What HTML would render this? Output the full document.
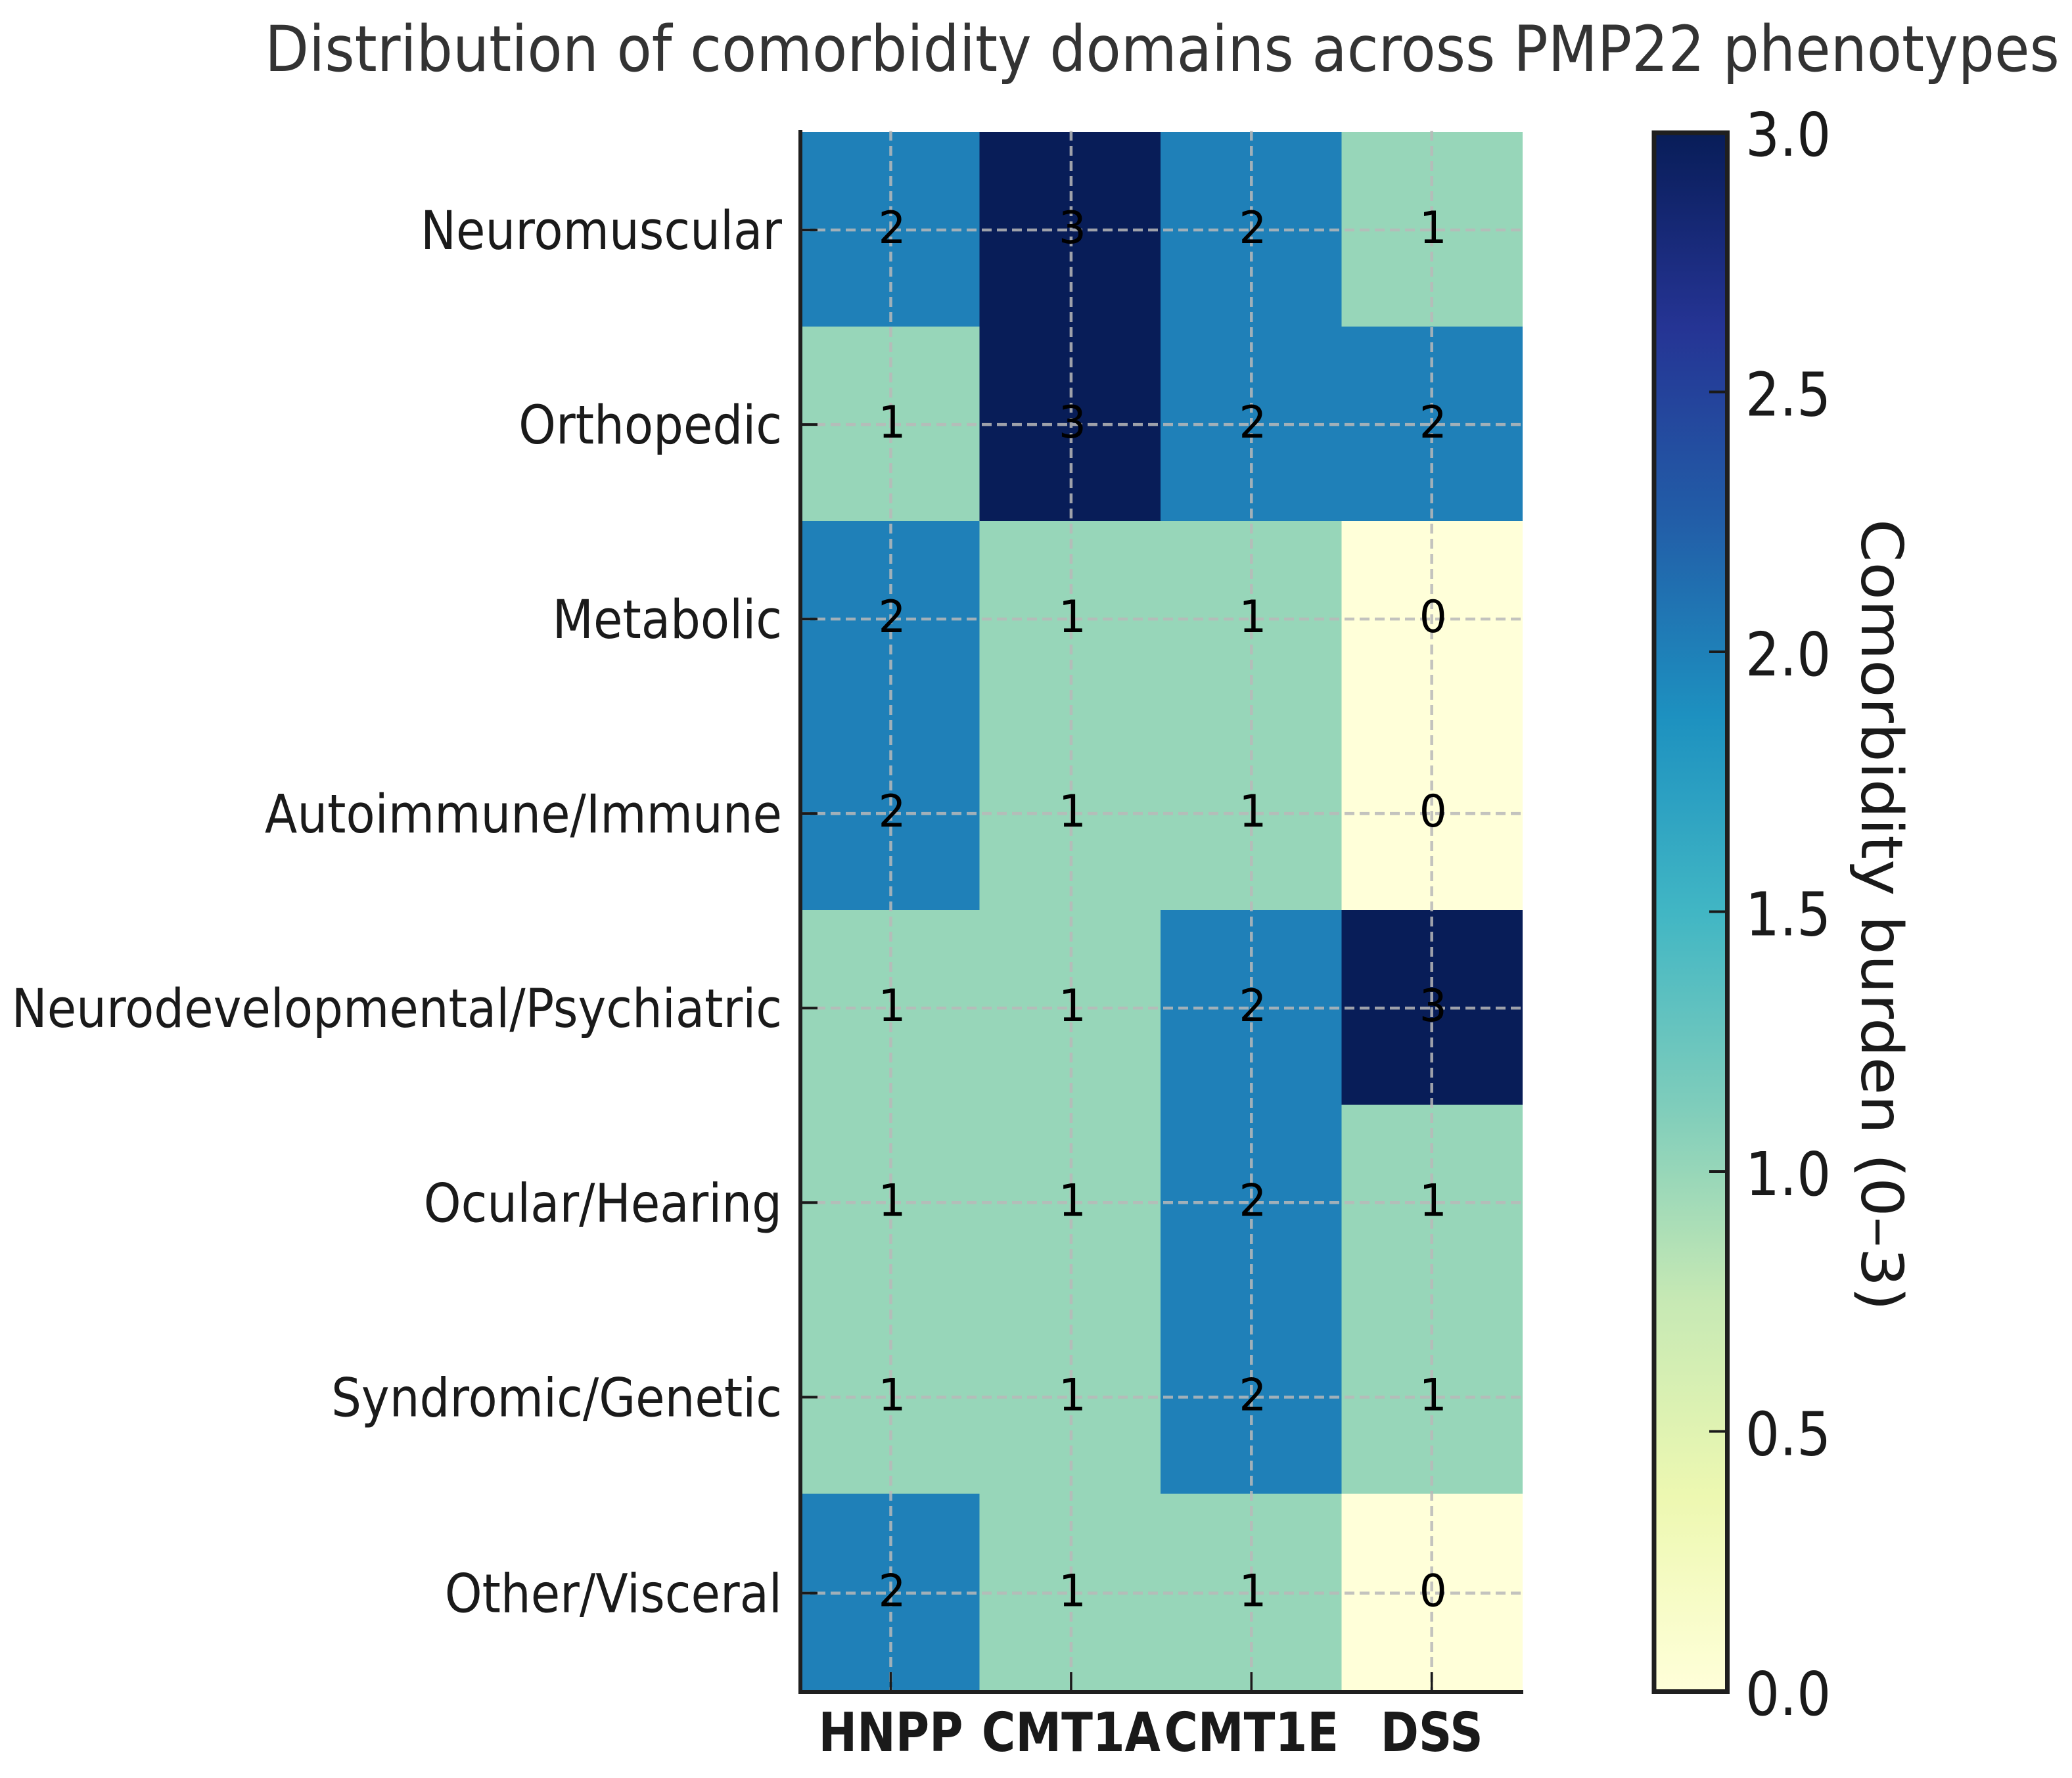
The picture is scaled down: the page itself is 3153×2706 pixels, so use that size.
<!DOCTYPE html>
<html lang="en">
<head>
<meta charset="utf-8">
<title>Distribution of comorbidity domains across PMP22 phenotypes</title>
<style>
html,body{margin:0;padding:0;background:#fff;width:3153px;height:2706px;overflow:hidden}
svg{display:block}
text{font-family:"DejaVu Sans","Liberation Sans",sans-serif}
</style>
</head>
<body>
<svg id="chart" xmlns="http://www.w3.org/2000/svg" width="3153" height="2706" viewBox="0 0 3153 2706">
  <rect x="0" y="0" width="3153" height="2706" fill="#ffffff"/>
  <defs><linearGradient id="cbar-gradient" x1="0" y1="1" x2="0" y2="0"></linearGradient></defs>
  <text transform="translate(403,108) scale(0.907,1)" font-size="96" fill="#333333">Distribution of comorbidity domains across PMP22 phenotypes</text>
  <g id="cells"></g>
  <g id="grid"></g>
  <g id="ticks"></g>
  <g id="values"></g>
  <g id="ylabels"></g>
  <g id="xlabels"></g>
  <line x1="1218" y1="198" x2="1218" y2="2578" stroke="#1f1f1f" stroke-width="6"/>
  <line x1="1215" y1="2575" x2="2318" y2="2575" stroke="#1f1f1f" stroke-width="6"/>
  <g id="colorbar"></g>
  <text transform="translate(2833,790) rotate(90) scale(1.078,1)" font-size="87" fill="#1a1a1a">Comorbidity burden (0–3)</text>
</svg>
<script>
// Chart data
const domains = ['Neuromuscular','Orthopedic','Metabolic','Autoimmune/Immune','Neurodevelopmental/Psychiatric','Ocular/Hearing','Syndromic/Genetic','Other/Visceral'];
const phenotypes = ['HNPP','CMT1A','CMT1E','DSS'];
const hnppValues  = [2,1,2,2,1,1,1,2];
const cmt1aValues = [3,3,1,1,1,1,1,1];
const cmt1eValues = [2,2,1,1,2,2,2,1];
const dssValues   = [1,2,0,0,3,1,1,0];
const colorbarTicks = [0,0.5,1,1.5,2,2.5,3];
const colorbarTickLabels = ['0.0','0.5','1.0','1.5','2.0','2.5','3.0'];
const ylGnBu = ['#ffffd9','#edf8b1','#c7e9b4','#7fcdbb','#41b6c4','#1d91c0','#225ea8','#253494','#081d58'];

const seriesByPhenotype = [hnppValues, cmt1aValues, cmt1eValues, dssValues];
const SVGNS = 'http://www.w3.org/2000/svg';
const plot = {left:1215, right:2317, top:201, bottom:2574, rowStep:296.05};
const cbar = {left:2517, right:2628.5, top:202, bottom:2574.5};
const vMin = 0, vMax = 3;

function xBand(i){ return plot.left + i * (plot.right - plot.left) / phenotypes.length; }
function yBand(i){ return i >= domains.length ? plot.bottom : plot.top + i * plot.rowStep; }
function xCenter(i){ return 1355.5 + i * 274.4; }
function yCenter(i){ return (yBand(i) + yBand(i + 1)) / 2 + 1; }
function cbarY(v){ return plot.bottom - (v - vMin) / (vMax - vMin) * (plot.bottom - plot.top); }

function hexRgb(h){ return [1,3,5].map(function(p){ return parseInt(h.substr(p,2),16); }); }
function colorFor(v){
  const t = Math.max(0, Math.min(1, (v - vMin) / (vMax - vMin))) * (ylGnBu.length - 1);
  const i = Math.min(Math.floor(t), ylGnBu.length - 2);
  const a = hexRgb(ylGnBu[i]), b = hexRgb(ylGnBu[i + 1]), f = t - i;
  return 'rgb(' + a.map(function(c,k){ return Math.round(c + (b[k] - c) * f); }).join(',') + ')';
}
function make(tag, attrs, parent, txt){
  const n = document.createElementNS(SVGNS, tag);
  Object.keys(attrs).forEach(function(k){ n.setAttribute(k, attrs[k]); });
  if (txt !== undefined) n.textContent = txt;
  parent.appendChild(n);
  return n;
}

const cellsG = document.getElementById('cells');
const gridG = document.getElementById('grid');
const ticksG = document.getElementById('ticks');
const valuesG = document.getElementById('values');
const ylabelsG = document.getElementById('ylabels');
const xlabelsG = document.getElementById('xlabels');
const cbarG = document.getElementById('colorbar');
let el;

// Heatmap cells and printed values
seriesByPhenotype.forEach(function(series, c){
  series.forEach(function(v, r){
    el = make('rect', {x:xBand(c), y:yBand(r), width:xBand(c+1)-xBand(c), height:yBand(r+1)-yBand(r), fill:colorFor(v), 'shape-rendering':'crispEdges'}, cellsG);
    
    
    el = make('text', {transform:'translate(' + (xCenter(c)+2) + ',' + (yCenter(r)+20) + ') scale(0.97,1)', 'text-anchor':'middle', 'font-size':68, fill:'#000000'}, valuesG, String(v));
    
    
  });
});

// Y axis: gridlines, ticks, labels
domains.forEach(function(name, r){
  const y = yCenter(r);
  el = make('line', {x1:1218, y1:y, x2:plot.right, y2:y, stroke:'#b8b8b8', 'stroke-opacity':0.85, 'stroke-width':4.5, 'stroke-dasharray':'15 8'}, gridG);
  
  
  el = make('line', {x1:1218, y1:y, x2:1244, y2:y, stroke:'#1a1a1a', 'stroke-width':4}, ticksG);
  
  
  el = make('text', {transform:'translate(1190,' + (y+29) + ') scale(0.892,1)', 'text-anchor':'end', 'font-size':81, fill:'#1a1a1a'}, ylabelsG, name);
  
  
});

// X axis: gridlines, ticks, labels
phenotypes.forEach(function(name, c){
  const x = xCenter(c);
  el = make('line', {x1:x, y1:199, x2:x, y2:plot.bottom, stroke:'#b8b8b8', 'stroke-opacity':0.85, 'stroke-width':4.5, 'stroke-dasharray':'15 8'}, gridG);
  
  
  el = make('line', {x1:x, y1:2545, x2:x, y2:2575, stroke:'#1a1a1a', 'stroke-width':3.5}, ticksG);
  
  
  el = make('text', {transform:'translate(' + x + ',2665) scale(0.855,1)', 'text-anchor':'middle', 'font-size':82, 'font-weight':'bold', fill:'#1a1a1a'}, xlabelsG, name);
  
  
});

// Colorbar
const grad = document.getElementById('cbar-gradient');
ylGnBu.forEach(function(col, i){
  make('stop', {offset:i / (ylGnBu.length - 1), 'stop-color':col}, grad);
});
el = make('rect', {x:cbar.left, y:cbar.top, width:cbar.right-cbar.left, height:cbar.bottom-cbar.top, fill:'url(#cbar-gradient)'}, cbarG);


colorbarTicks.forEach(function(v, i){
  const y = cbarY(v);
  el = make('line', {x1:2601, y1:y, x2:cbar.right, y2:y, stroke:'#1a1a1a', 'stroke-width':4}, cbarG);
  
  
  el = make('text', {transform:'translate(2656,' + (y+36) + ') scale(0.89,1)', 'font-size':92, fill:'#1a1a1a'}, cbarG, colorbarTickLabels[i]);
  
  
});
el = make('rect', {x:cbar.left, y:cbar.top, width:cbar.right-cbar.left, height:cbar.bottom-cbar.top, fill:'none', stroke:'#1f1f1f', 'stroke-width':7}, cbarG);


</script>
</body>
</html>
